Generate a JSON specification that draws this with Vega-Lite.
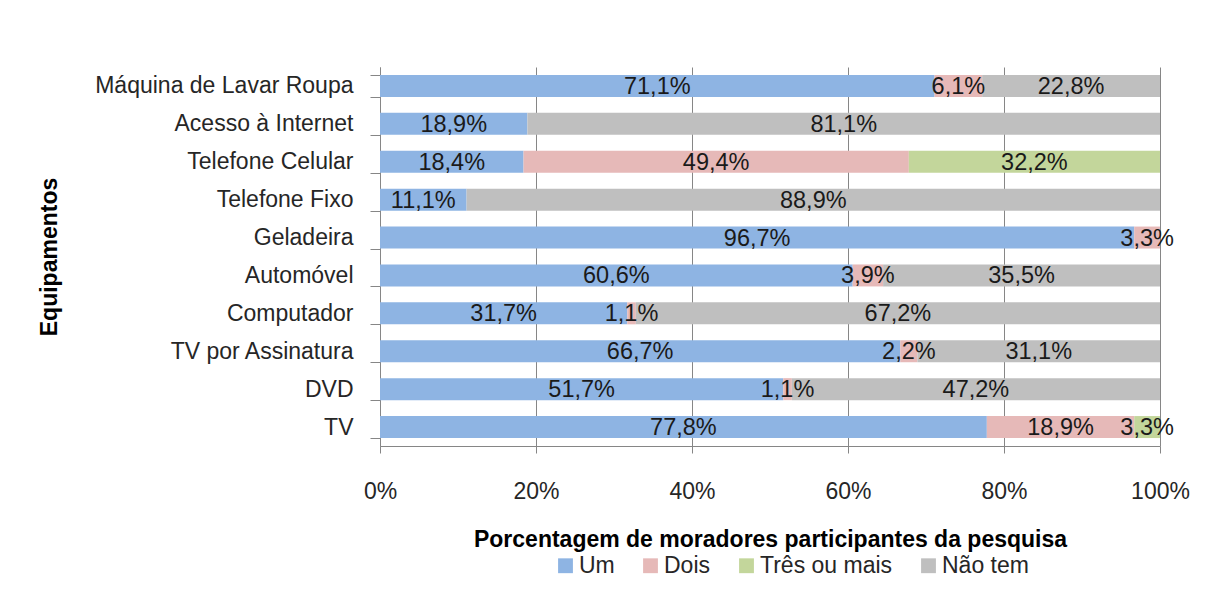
{
  "$schema": "https://vega.github.io/schema/vega-lite/v6.json",
  "autosize": {"type": "none"},
  "width": 780,
  "height": 379,
  "padding": {"left": 380, "top": 67, "right": 48, "bottom": 144},
  "background": "white",
  "data": {
    "values": [
      {"equip": "Máquina de Lavar Roupa", "cat": "Um", "k": 1, "v": 0.711},
      {"equip": "Máquina de Lavar Roupa", "cat": "Dois", "k": 2, "v": 0.061},
      {"equip": "Máquina de Lavar Roupa", "cat": "Não tem", "k": 4, "v": 0.228},
      {"equip": "Acesso à Internet", "cat": "Um", "k": 1, "v": 0.189},
      {"equip": "Acesso à Internet", "cat": "Não tem", "k": 4, "v": 0.811},
      {"equip": "Telefone Celular", "cat": "Um", "k": 1, "v": 0.184},
      {"equip": "Telefone Celular", "cat": "Dois", "k": 2, "v": 0.494},
      {"equip": "Telefone Celular", "cat": "Três ou mais", "k": 3, "v": 0.322},
      {"equip": "Telefone Fixo", "cat": "Um", "k": 1, "v": 0.111},
      {"equip": "Telefone Fixo", "cat": "Não tem", "k": 4, "v": 0.889},
      {"equip": "Geladeira", "cat": "Um", "k": 1, "v": 0.967},
      {"equip": "Geladeira", "cat": "Dois", "k": 2, "v": 0.033},
      {"equip": "Automóvel", "cat": "Um", "k": 1, "v": 0.606},
      {"equip": "Automóvel", "cat": "Dois", "k": 2, "v": 0.039},
      {"equip": "Automóvel", "cat": "Não tem", "k": 4, "v": 0.355},
      {"equip": "Computador", "cat": "Um", "k": 1, "v": 0.317},
      {"equip": "Computador", "cat": "Dois", "k": 2, "v": 0.011},
      {"equip": "Computador", "cat": "Não tem", "k": 4, "v": 0.672},
      {"equip": "TV por Assinatura", "cat": "Um", "k": 1, "v": 0.667},
      {"equip": "TV por Assinatura", "cat": "Dois", "k": 2, "v": 0.022},
      {"equip": "TV por Assinatura", "cat": "Não tem", "k": 4, "v": 0.311},
      {"equip": "DVD", "cat": "Um", "k": 1, "v": 0.517},
      {"equip": "DVD", "cat": "Dois", "k": 2, "v": 0.011},
      {"equip": "DVD", "cat": "Não tem", "k": 4, "v": 0.472},
      {"equip": "TV", "cat": "Um", "k": 1, "v": 0.778},
      {"equip": "TV", "cat": "Dois", "k": 2, "v": 0.189},
      {"equip": "TV", "cat": "Três ou mais", "k": 3, "v": 0.033}
    ]
  },
  "encoding": {
    "y": {
      "field": "equip",
      "type": "nominal",
      "sort": ["Máquina de Lavar Roupa", "Acesso à Internet", "Telefone Celular", "Telefone Fixo", "Geladeira", "Automóvel", "Computador", "TV por Assinatura", "DVD", "TV"],
      "scale": {"paddingInner": 0.42, "paddingOuter": 0.21},
      "axis": {
        "title": "Equipamentos",
        "tickBand": "extent",
        "tickSize": 10,
        "labelPadding": 17,
        "labelLimit": 500,
        "titleX": -319,
        "grid": false
      }
    },
    "x": {
      "field": "v",
      "type": "quantitative",
      "stack": "zero",
      "scale": {"domain": [0, 1], "nice": false},
      "axis": {
        "title": "Porcentagem de moradores participantes da pesquisa",
        "format": ".0%",
        "values": [0, 0.2, 0.4, 0.6, 0.8, 1],
        "tickSize": 7,
        "labelPadding": 27,
        "labelFlush": false,
        "labelOverlap": false,
        "titlePadding": 25,
        "grid": true
      }
    },
    "order": {"field": "k", "type": "quantitative"}
  },
  "layer": [
    {
      "mark": {"type": "bar"},
      "encoding": {
        "color": {
          "field": "cat",
          "type": "nominal",
          "sort": ["Um", "Dois", "Três ou mais", "Não tem"],
          "scale": {
            "domain": ["Um", "Dois", "Três ou mais", "Não tem"],
            "range": ["#8EB4E3", "#E6B9B8", "#C3D69B", "#BFBFBF"]
          },
          "legend": {
            "title": null,
            "orient": "none",
            "direction": "horizontal",
            "legendX": 174,
            "legendY": 487,
            "symbolType": "square",
            "symbolSize": 220,
            "symbolStrokeWidth": 0,
            "labelOffset": 2,
            "columnPadding": 24,
            "labelFontSize": 23,
            "labelFont": "Liberation Sans",
            "labelColor": "#262626"
          }
        }
      }
    },
    {
      "mark": {"type": "text", "font": "Liberation Sans", "fontSize": 23.5, "color": "#1a1a1a", "baseline": "middle", "dy": 1},
      "encoding": {
        "x": {"field": "v", "type": "quantitative", "stack": "zero", "bandPosition": 0.5},
        "text": {"field": "v", "type": "quantitative", "format": ".1%"}
      }
    }
  ],
  "config": {
    "locale": {"number": {"decimal": ",", "thousands": ".", "grouping": [3], "currency": ["R$", ""]}},
    "view": {"stroke": null},
    "axis": {
      "labelFont": "Liberation Sans",
      "labelFontSize": 23,
      "labelColor": "#262626",
      "titleFont": "Liberation Sans",
      "titleFontSize": 23,
      "titleFontWeight": "bold",
      "titleColor": "#000000",
      "domainColor": "#868686",
      "tickColor": "#868686",
      "gridColor": "#868686",
      "domainWidth": 1,
      "tickWidth": 1,
      "gridWidth": 1
    },
    "legend": {"symbolFillOpacity": 1}
  }
}
